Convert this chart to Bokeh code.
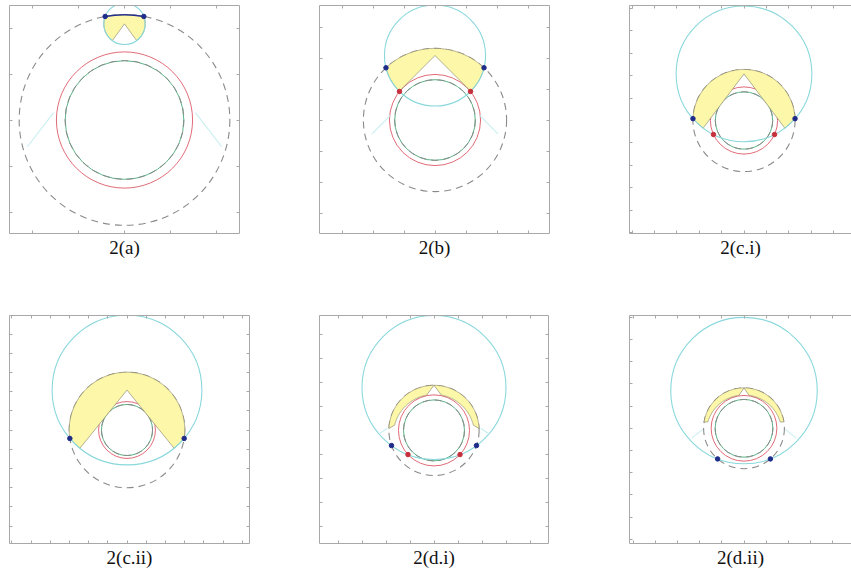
import numpy as np
from bokeh.plotting import figure
from bokeh.layouts import row, column
from bokeh.models import LinearAxis, FixedTicker, CustomJSTickFormatter, Title, Range1d
from bokeh.embed import file_html
from bokeh.resources import INLINE

# ---------------------------------------------------------------- data ----
panel_labels = ["2(a)", "2(b)", "2(c.i)", "2(c.ii)", "2(d.i)", "2(d.ii)"]

# circles centred on the origin: dashed outer circle, red circle, inner green circle
outer_radius = [2.29, 2.31, 2.28, 3.01, 1.88, 1.82]
red_radius = [1.48, 1.47, 1.50, 1.48, 1.48, 1.48]
green_radius = [1.29, 1.30, 1.28, 1.33, 1.27, 1.30]

# wedge apex on the vertical axis and the cyan circle (centre height, radius)
apex_height = [2.09, 2.08, 2.08, 2.08, 1.88, 1.82]
cyan_center = [2.09, 2.08, 2.08, 2.08, 1.79, 1.70]
cyan_radius = [0.45, 1.63, 3.03, 3.90, 3.00, 3.30]
wedge_half_angle = [36, 45, 37, 39, 37, 34]  # degrees from the downward vertical

# shaded band of the d-cases: inner boundary circle and the angles of its two cuts
band_inner_center = [None, None, None, None, -0.19, -0.20]
band_inner_radius = [None, None, None, None, 1.69, 1.70]
band_outer_end = [None, None, None, None, 177.6, 171.0]  # degrees, left cut on outer circle
band_inner_end = [None, None, None, None, 166.0, 163.3]  # degrees, left cut on inner circle

# faint guide segments, left side (polar radius / angle in degrees), mirrored right
guide_r0 = [1.55, 1.45, None, None, 1.95, 1.86]
guide_a0 = [174.0, 174.0, None, None, 177.4, 181.5]
guide_r1 = [2.19, 2.08, None, None, 2.25, 2.40]
guide_a1 = [195.4, 192.5, None, None, 183.0, 190.7]

# -------------------------------------------------------------- layout ----
fig_w = [310, 310, 231, 310, 310, 231]
fig_h = [305, 305, 305, 263, 263, 263]
border_l = [9, 9, 9, 9, 9, 9]
border_r = [71, 71, 0, 61, 72, 0]
border_t = [5, 5, 5, 10, 10, 10]
border_b = [72, 72, 72, 25, 25, 25]
origin_x = [115.0, 115.5, 114.5, 117.5, 114.5, 114.5]   # px from frame left
origin_y = [114.5, 114.5, 115.0, 114.5, 114.9, 112.8]   # px from frame top
px_per_unit = [46.0, 31.0, 22.4, 19.2, 24.0, 22.2]
has_right_edge = [True, True, False, True, True, False]

FRAME = "#a8a8a8"
GRAY = "#8a8a8a"
RED = "#dc5a68"
GREEN = "#5cb487"
CYAN = "#8ad8dc"
GUIDE = "#c8eef0"
YELLOW = "#fcf7a9"
EDGE = "#7a745c"
NAVY = "#26338c"
DOT_BLUE = "#1e2c8a"
DOT_RED = "#c62f3b"
DASH = "7 5"


def arc_points(cx, cy, r, a0, a1, n=160):
    t = np.linspace(a0, a1, n)
    return cx + r * np.cos(t), cy + r * np.sin(t)


def circle_hits(r1, h, r2):
    """Intersections of the circle |P|=r1 with the circle centred (0,h) of radius r2."""
    y = (r1 ** 2 - r2 ** 2 + h ** 2) / (2 * h)
    if abs(y) >= r1:
        return None
    return np.sqrt(r1 ** 2 - y ** 2), y


def shaded_region(i):
    R = outer_radius[i]
    A = apex_height[i]
    h = cyan_center[i]
    c = cyan_radius[i]
    phi = np.radians(wedge_half_angle[i])
    xs, ys = [], []
    if band_inner_radius[i] is None:
        # inside the outer circle and the cyan circle, outside the wedge below the apex
        xb, yb = circle_hits(R, h, c)
        tr = np.arctan2(yb, xb)
        x, y = arc_points(0, 0, R, tr, np.pi - tr)
        xs += list(x); ys += list(y)
        bl = np.arctan2(yb - h, -xb) % (2 * np.pi)
        gl = 1.5 * np.pi - phi
        x, y = arc_points(0, h, c, bl, gl)
        xs += list(x); ys += list(y)
        xs.append(0.0); ys.append(A)
        gr = 1.5 * np.pi + phi
        br = np.arctan2(yb - h, xb) % (2 * np.pi)
        if br < gr:
            br += 2 * np.pi
        x, y = arc_points(0, h, c, gr, br)
        xs += list(x); ys += list(y)
    else:
        # band between the outer circle and the inner boundary, notched at the apex
        yc = band_inner_center[i]
        rc = band_inner_radius[i]
        to = np.radians(band_outer_end[i])
        ti = np.radians(band_inner_end[i])
        x, y = arc_points(0, 0, R, np.pi - to, to)
        xs += list(x); ys += list(y)
        d = A - yc
        b = d * np.cos(phi)
        t = b - np.sqrt(b * b - (d * d - rc * rc))
        nx, ny = -t * np.sin(phi), A - t * np.cos(phi)
        tn = np.arctan2(ny - yc, nx)
        x, y = arc_points(0, yc, rc, ti, tn)
        xs += list(x); ys += list(y)
        xs.append(0.0); ys.append(A)
        x, y = arc_points(0, yc, rc, np.pi - tn, np.pi - ti)
        xs += list(x); ys += list(y)
    return xs, ys


def style_axis(ax, ticks):
    ax.ticker = FixedTicker(ticks=ticks)
    ax.formatter = CustomJSTickFormatter(code="return ''")
    ax.major_tick_in = 3
    ax.major_tick_out = 0
    ax.minor_tick_line_color = None
    ax.major_label_standoff = 0
    ax.axis_line_color = FRAME
    ax.axis_line_width = 1
    ax.major_tick_line_color = FRAME


def build(i):
    fw = fig_w[i] - border_l[i] - border_r[i]
    fh = fig_h[i] - border_t[i] - border_b[i]
    s = px_per_unit[i]
    x0, x1 = -origin_x[i] / s, (fw - origin_x[i]) / s
    y0, y1 = -(fh - origin_y[i]) / s, origin_y[i] / s

    p = figure(width=fig_w[i], height=fig_h[i],
               x_range=Range1d(x0, x1), y_range=Range1d(y0, y1),
               output_backend="svg", toolbar_location=None,
               x_axis_location=None, y_axis_location=None,
               min_border_left=border_l[i], min_border_right=border_r[i],
               min_border_top=border_t[i], min_border_bottom=border_b[i])
    p.outline_line_color = None
    p.grid.visible = False
    p.background_fill_color = "white"
    p.border_fill_color = "white"

    xt = list(range(int(np.ceil(x0)), int(np.floor(x1)) + 1))
    yt = list(range(int(np.ceil(y0)), int(np.floor(y1)) + 1))
    sides = [("below", xt), ("above", xt), ("left", yt)]
    if has_right_edge[i]:
        sides.append(("right", yt))
    for loc, ticks in sides:
        ax = LinearAxis()
        style_axis(ax, ticks)
        p.add_layout(ax, loc)

    R = outer_radius[i]
    # outer dashed circle, red circle, inner green/gray dashed circle
    p.circle(x=[0], y=[0], radius=R, fill_color=None, line_color=GRAY,
             line_width=1.1, line_dash=DASH)
    p.circle(x=[0], y=[0], radius=red_radius[i], fill_color=None,
             line_color=RED, line_width=0.9)
    p.circle(x=[0], y=[0], radius=green_radius[i], fill_color=None,
             line_color=GREEN, line_width=1.0)
    p.circle(x=[0], y=[0], radius=green_radius[i], fill_color=None,
             line_color=GRAY, line_width=1.0, line_dash=DASH)

    # shaded region
    xs, ys = shaded_region(i)
    p.patch(xs, ys, fill_color=YELLOW, line_color=EDGE, line_width=0.7,
            line_alpha=0.8)

    # cyan circle around the apex
    p.circle(x=[0], y=[cyan_center[i]], radius=cyan_radius[i], fill_color=None,
             line_color=CYAN, line_width=1.1)

    # guide segments
    if guide_r0[i] is not None:
        a0, a1 = np.radians(guide_a0[i]), np.radians(guide_a1[i])
        gx0 = guide_r0[i] * np.cos(a0); gy0 = guide_r0[i] * np.sin(a0)
        gx1 = guide_r1[i] * np.cos(a1); gy1 = guide_r1[i] * np.sin(a1)
        p.segment(x0=[gx0, -gx0], y0=[gy0, gy0], x1=[gx1, -gx1], y1=[gy1, gy1],
                  line_color=GUIDE, line_width=1.1)

    # intersections with the cyan circle
    hb = circle_hits(R, cyan_center[i], cyan_radius[i])
    if i == 0 and hb is not None:
        tr = np.arctan2(hb[1], hb[0])
        p.arc(x=0, y=0, radius=R, start_angle=tr, end_angle=np.pi - tr,
              line_color=NAVY, line_width=1.5)
    hr = circle_hits(red_radius[i], cyan_center[i], cyan_radius[i])
    if hr is not None:
        p.scatter(x=[-hr[0], hr[0]], y=[hr[1], hr[1]], size=4.5,
                  fill_color=DOT_RED, line_color=DOT_RED)
    if hb is not None:
        p.scatter(x=[-hb[0], hb[0]], y=[hb[1], hb[1]], size=4.5,
                  fill_color=DOT_BLUE, line_color=DOT_BLUE)

    p.add_layout(Title(text=panel_labels[i], align="center",
                       text_font="Liberation Serif", text_font_size="19px",
                       text_font_style="normal", text_color="#111111",
                       standoff=2), "below")
    return p


plots = [build(i) for i in range(6)]
layout = column(row(plots[0], plots[1], plots[2], spacing=0),
                row(plots[3], plots[4], plots[5], spacing=0), spacing=0)

open("out.html", "w").write(file_html(layout, INLINE))
